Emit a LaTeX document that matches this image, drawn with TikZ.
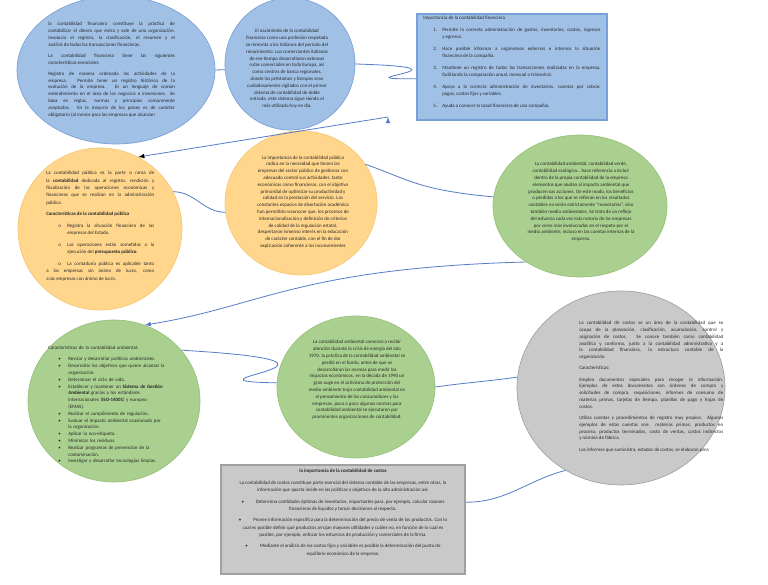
\documentclass[tikz,border=0pt]{standalone}
\usepackage{fontspec}
\setmainfont{Carlito}
\usetikzlibrary{
	shapes.geometric		% ellipse nodes
}
\tolerance=10000
\hyphenpenalty=10000
\hbadness=10000
\setlength{\parindent}{0pt}

\definecolor{finfill}{RGB}{160,192,230}
\definecolor{finline}{RGB}{120,160,216}
\definecolor{pubfill}{RGB}{255,214,140}
\definecolor{publine}{RGB}{246,200,118}
\definecolor{ambfill}{RGB}{170,208,143}
\definecolor{ambline}{RGB}{150,192,122}
\definecolor{cosfill}{RGB}{201,201,201}
\definecolor{cosline}{RGB}{160,160,160}
\definecolor{linkblue}{RGB}{84,124,200}
\definecolor{ink}{RGB}{38,38,38}

\newcommand{\paragap}{\par\vspace{3.3pt}}
\newcommand{\hangitem}[3]{\hangindent=#2\hangafter=1\noindent\hspace*{#1}\makebox[\dimexpr#2-#1\relax][l]{#3}}
\newcommand{\dotitem}{\par\hangitem{7.5pt}{15pt}{\textbullet}}

\begin{document}
\begin{tikzpicture}[
	x=0.75pt, y=0.75pt,
	blob/.style={
		ellipse,
		draw=#1line, fill=#1fill,
		line width=0.5pt,
		inner sep=0pt
	},
	panel/.style={
		rectangle,
		draw=#1line, fill=#1fill,
		line width=0.8pt,
		inner sep=0pt
	},
	txt/.style={
		inner sep=0pt,
		text=ink,
		font=\fontsize{3.7}{5.1}\selectfont
	},
	txtj/.style={txt, align=justify, anchor=north west},
	txtl/.style={txt, align=left, anchor=north west},
	txtc/.style={txt, align=center},
	link/.style={
		draw=linkblue,
		line width=0.6pt
	},
	arrow/.style={
		link,
		->
	},
	>=latex]

	\useasboundingbox (0,0) rectangle (768,585);
	\fill [white] (0,0) rectangle (768,585);
	\clip (0,0) rectangle (768,585);

	%%% Draw all the ellipses: name/x/y/width/height/colour
	\foreach \nm/\cx/\cy/\w/\h/\tone in {
		finDef/116/515/198/148/fin, finHist/290/521/130/132/fin,
		pubDef/100/356/164/162/pub, pubImp/301/382/152/144/pub,
		ambDef/580/379/174/142/amb, ambChar/114/184/172/162/amb,
		ambHist/356/198/158/142/amb, cosDef/621/197/208/194/cos} {
		\node [blob=\tone, minimum width=\w*0.75pt, minimum height=\h*0.75pt] (\nm) at (\cx,\cy) {};
	};

	% the two boxes
	\node [panel=fin, minimum width=142.5pt, minimum height=79.5pt] (finImp) at (512,518) {};
	\node [panel=cos, minimum width=183pt, minimum height=81.75pt] (cosImp) at (343,65.5) {};

	%%% Texts
	\node [txtj, text width=95pt] (finDefTxt) at (48,563) {la contabilidad financiera constituye la práctica de\linebreak contabilizar el dinero que entra y sale de una organización.\linebreak Involucra el registro, la clasificación, el resumen y el\linebreak análisis de todas las transacciones financieras.\paragap La contabilidad financiera tiene las siguientes\linebreak características esenciales:\paragap\parfillskip=0pt Registra de manera ordenada las actividades de la\linebreak empresa. Permite tener un registro histórico de la\linebreak evolución de la empresa. Es un lenguaje de común\linebreak entendimiento en el área de los negocios e inversiones. Se\linebreak basa en reglas, normas y principios comúnmente\linebreak aceptados. En la mayoría de los países es de carácter\linebreak obligatorio (al menos para las empresas que alcanzan};

	\node [txtc] (finHistTxt) at (287,516) {El nacimiento de la contabilidad\\ financiera como una profesión respetada\\ se remonta a los italianos del periodo del\\ renacimiento. Los comerciantes italianos\\ de ese tiempo desarrollaron extensas\\ rutas comerciales en toda Europa, así\\ como centros de banca regionales,\\ donde los préstamos y tiempos eran\\ cuidadosamente vigilados con el primer\\ sistema de contabilidad de doble\\ entrada. este sistema sigue siendo el\\ más utilizado hoy en día.};

	\node [txtj, text width=133pt, font=\fontsize{3.7}{5.5}\selectfont] (finImpTxt) at (423,569) {Importancia de la contabilidad financiera\paragap
		\hangitem{7.5pt}{14.25pt}{1.}Permite la correcta administración de gastos, inventarios, costos, ingresos\linebreak y egresos.\paragap
		\hangitem{7.5pt}{14.25pt}{2.}Hace posible informar a organismos externos e internos la situación\linebreak financiera de la compañía.\paragap
		\hangitem{7.5pt}{14.25pt}{3.}Mantiene un registro de todas las transacciones realizadas en la empresa,\linebreak facilitando la comparación anual, mensual o trimestral.\paragap
		\hangitem{7.5pt}{14.25pt}{4.}Apoya a la correcta administración de inventarios, cuentas por cobrar,\linebreak pagos, costos fijos y variables.\paragap
		\hangitem{7.5pt}{14.25pt}{5.}Ayuda a conocer la salud financiera de una compañía.};

	\node [txtj, text width=81pt, font=\fontsize{3.7}{5.5}\selectfont] (pubDefTxt) at (46,414) {La contabilidad pública es la parte o rama de\linebreak la \textbf{contabilidad} dedicada al registro, rendición y\linebreak fiscalización de las operaciones económicas y\linebreak financieras que se realizan en la administración\linebreak pública.\paragap
		\textbf{Características de la contabilidad pública}\paragap
		\hangitem{9pt}{15.75pt}{o}Registra la situación financiera de las\linebreak empresas del Estado.\paragap
		\hangitem{9pt}{15.75pt}{o}Las operaciones están sometidas a la\linebreak ejecución del \textbf{presupuesto público}.\paragap
		\hangitem{9pt}{15.75pt}{o}La contaduría pública es aplicable tanto\linebreak a las empresas sin ánimo de lucro, como\linebreak a las empresas con ánimo de lucro.};

	\node [txtc] (pubImpTxt) at (303,383) {La importancia de la contabilidad pública\\ radica en la necesidad que tienen las\\ empresas del sector público de gestionar con\\ adecuado control sus actividades, tanto\\ económicas como financieras, con el objetivo\\ primordial de optimizar su productividad y\\ calidad en la prestación del servicio. Los\\ constantes espacios de disertación académica\\ han permitido reconocer que, los procesos de\\ internacionalización y definición de criterios\\ de calidad de la regulación estatal,\\ despertaron inmenso interés en la educación\\ de carácter contable, con el fin de dar\\ explicación coherente a los inconvenientes};

	\node [txtc] (ambDefTxt) at (581,383) {La contabilidad ambiental, contabilidad verde,\\ contabilidad ecológica… hace referencia a incluir\\ dentro de la propia contabilidad de la empresa\\ elementos que aludan al impacto ambiental que\\ producen sus acciones. De este modo, los beneficios\\ o pérdidas a los que se refieran en los resultados\\ contables no serán estrictamente “monetarios”, sino\\ también medio ambientales. Se trata de un reflejo\\ del esfuerzo cada vez más notorio de las empresas\\ por verse más involucradas en el respeto por el\\ medio ambiente, incluso en las cuentas internas de la\\ empresa.};

	\node [txtl, text width=92pt] (ambCharTxt) at (48,239) {Características de la contabilidad ambiental:\paragap
		\dotitem Revisar y desarrollar políticas ambientales.
		\dotitem Desarrollar los objetivos que quiere alcanzar la\newline organización.
		\dotitem Determinar el ciclo de vida.
		\dotitem Establecer y mantener un \textbf{Sistema de Gestión}\newline \textbf{Ambiental} gracias a los estándares\newline internacionales (\textbf{ISO-14001}) y europeo\newline (EMAS).
		\dotitem Realizar el cumplimiento de regulación.
		\dotitem Evaluar el impacto ambiental ocasionado por\newline la organización.
		\dotitem Aplicar la eco-etiqueta.
		\dotitem Minimizar los residuos.
		\dotitem Realizar programas de prevención de la\newline contaminación.
		\dotitem Investigar y desarrollar tecnologías limpias.};

	\node [txtc] (ambHistTxt) at (357,205) {La contabilidad ambiental comenzó a recibir\\ atención durante la crisis de energía del año\\ 1970. la práctica de la contabilidad ambiental se\\ perdió en el fondo, antes de que se\\ desarrollaran las normas para medir los\\ impactos económicos. en la década de 1990 un\\ gran auge en el activismo de protección del\\ medio ambiente trajo contabilidad ambiental en\\ el pensamiento de los consumidores y las\\ empresas. poco a poco algunas normas para\\ contabilidad ambiental se ejecutaron por\\ prominentes organizaciones de contabilidad.};

	\node [txtj, text width=108pt] (cosDefTxt) at (579,264) {La contabilidad de costos es un área de la contabilidad que se\linebreak ocupa de la planeación, clasificación, acumulación, control y\linebreak asignación de costos. Se conoce también como contabilidad\linebreak analítica y conforma, junto a la contabilidad administrativa y a\linebreak la contabilidad financiera, la estructura contable de la\linebreak organización.\paragap
		Características:\paragap
		Emplea documentos especiales para recoger la información.\linebreak Ejemplos de estos documentos son órdenes de compra y\linebreak solicitudes de compra, requisiciones, informes de consumo de\linebreak materias primas, tarjetas de tiempo, planillas de pago y hojas de\linebreak costos.\paragap
		Utiliza cuentas y procedimientos de registro muy propios. Algunos\linebreak ejemplos de estas cuentas son: materias primas, productos en\linebreak proceso, productos terminados, costo de ventas, costos indirectos\linebreak y nómina de fábrica.\paragap
		\parfillskip=0pt Los informes que suministra, estados de costos, se elaboran para};

	\node [txtc, anchor=north, font=\fontsize{3.7}{5.4}\selectfont] (cosImpTxt) at (343,116) {\textbf{la importancia de la contabilidad de costos}\\[3.3pt]
		La contabilidad de costos constituye parte esencial del sistema contable de las empresas, entre otras, la\\ información que aporta incide en las políticas y objetivos de la alta administración así:\\[3.3pt]
		\textbullet\hspace{9pt}Determina cantidades óptimas de inventarios, importantes para, por ejemplo, calcular razones\\ financieras de liquidez y tomar decisiones al respecto.\\[3.3pt]
		\textbullet\hspace{9pt}Provee información específica para la determinación del precio de venta de los productos. Con lo\\ cual es posible definir qué productos arrojan mayores utilidades y cuáles no, en función de lo cual es\\ posible, por ejemplo, enfocar los esfuerzos de producción y comerciales de la firma.\\[3.3pt]
		\textbullet\hspace{9pt}Mediante el análisis de los costos fijos y variables es posible la determinación del punto de\\ equilibrio económico de la empresa.};

	%%% Connectors
	\coordinate (finTail) at (388,468);

	\path [link] (finDef.east) edge (finHist.185);
	\draw [link] (finHist.0) .. controls +(135,-4) and +(-87,-1) .. (finImp.187);
	\path [arrow] (finTail) edge (pubDef.62);
	\path [link] (pubDef.27) edge[out=0, in=180] (pubImp.187);
	\draw [link] (pubImp.31) .. controls +(45,-16) and +(-75,7) .. (ambDef.174);
	\draw [arrow] (ambDef.226) .. controls +(-227,-6) and +(115,18) .. (ambChar.68);
	\draw [link] (ambChar.37) .. controls +(220,-13) and +(-117,2) .. (ambHist.177);
	\path [link] (ambHist.east) edge[out=8, in=188] (cosDef.174);
	\path [link] (cosImp.8) edge[out=0, in=195] (cosDef.236);

\end{tikzpicture}
\end{document}
